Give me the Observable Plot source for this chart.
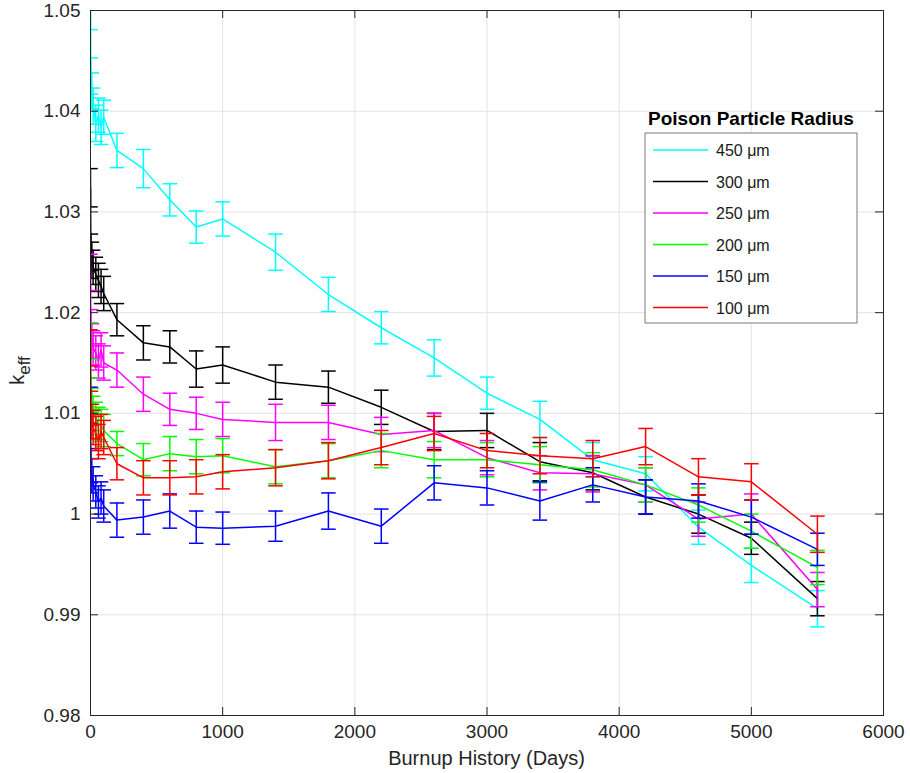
<!DOCTYPE html>
<html>
<head>
<meta charset="utf-8">
<script src="https://cdn.jsdelivr.net/npm/d3@7"></script>
<script src="https://cdn.jsdelivr.net/npm/@observablehq/plot@0.6"></script>
<style>
  html, body { margin: 0; padding: 0; background: #fff; }
  #chart { position: relative; width: 910px; height: 773px; }
</style>
</head>
<body>
<div id="chart"></div>
<script>
// ---- data ----
const days = [0, 3, 10, 20, 40, 60, 80, 100, 200, 400, 600, 800, 1000, 1400, 1800, 2200, 2600, 3000, 3400, 3800, 4200, 4600, 5000, 5500];

const seriesNames = ["450 μm", "300 μm", "250 μm", "200 μm", "150 μm", "100 μm"];
const seriesColors = ["#00FFFF", "#000000", "#FF00FF", "#00FF00", "#0000FF", "#FF0000"];

const k450 = [1.0500, 1.0435, 1.0420, 1.0405, 1.0388, 1.0396, 1.0384, 1.0394, 1.0361, 1.0343, 1.0312, 1.0285, 1.0293, 1.0260, 1.0218, 1.0185, 1.0155, 1.0120, 1.0094, 1.0054, 1.0040, 0.9987, 0.9949, 0.9906];
const k300 = [1.0324, 1.0260, 1.0252, 1.0245, 1.0238, 1.0232, 1.0226, 1.0219, 1.0193, 1.0170, 1.0166, 1.0144, 1.0148, 1.0131, 1.0126, 1.0106, 1.0082, 1.0083, 1.0052, 1.0041, 1.0017, 1.0000, 0.9976, 0.9916];
const k250 = [1.0240, 1.0185, 1.0172, 1.0165, 1.0160, 1.0152, 1.0163, 1.0150, 1.0143, 1.0119, 1.0104, 1.0100, 1.0094, 1.0091, 1.0091, 1.0079, 1.0083, 1.0056, 1.0041, 1.0040, 1.0029, 0.9995, 1.0000, 0.9925];
const k200 = [1.0172, 1.0118, 1.0108, 1.0100, 1.0095, 1.0090, 1.0088, 1.0083, 1.0070, 1.0054, 1.0060, 1.0057, 1.0058, 1.0047, 1.0053, 1.0063, 1.0054, 1.0054, 1.0049, 1.0044, 1.0029, 1.0009, 0.9983, 0.9947];
const k150 = [1.0108, 1.0048, 1.0038, 1.0030, 1.0022, 1.0012, 1.0016, 1.0008, 0.9994, 0.9997, 1.0003, 0.9987, 0.9986, 0.9988, 1.0003, 0.9988, 1.0031, 1.0026, 1.0013, 1.0029, 1.0017, 1.0013, 0.9997, 0.9965];
const k100 = [1.0165, 1.0105, 1.0092, 1.0086, 1.0080, 1.0072, 1.0082, 1.0076, 1.0050, 1.0036, 1.0036, 1.0037, 1.0042, 1.0046, 1.0053, 1.0066, 1.0080, 1.0063, 1.0058, 1.0055, 1.0067, 1.0037, 1.0032, 0.9980];

const e450 = [0.0019, 0.0018, 0.0018, 0.0018, 0.0018, 0.0017, 0.0017, 0.0017, 0.0017, 0.0019, 0.0016, 0.0016, 0.0017, 0.0018, 0.0017, 0.0016, 0.0018, 0.0016, 0.0018, 0.0017, 0.0017, 0.0017, 0.0017, 0.0018];
const e300 = [0.0019, 0.0018, 0.0018, 0.0017, 0.0017, 0.0017, 0.0017, 0.0017, 0.0016, 0.0017, 0.0016, 0.0018, 0.0018, 0.0017, 0.0016, 0.0017, 0.0018, 0.0017, 0.0019, 0.0017, 0.0017, 0.0019, 0.0016, 0.0017];
const e250 = [0.0018, 0.0018, 0.0017, 0.0017, 0.0017, 0.0017, 0.0017, 0.0017, 0.0017, 0.0017, 0.0016, 0.0016, 0.0017, 0.0018, 0.0017, 0.0017, 0.0017, 0.0017, 0.0017, 0.0018, 0.0017, 0.0017, 0.0020, 0.0017];
const e200 = [0.0018, 0.0017, 0.0017, 0.0017, 0.0016, 0.0016, 0.0016, 0.0016, 0.0012, 0.0016, 0.0017, 0.0017, 0.0017, 0.0017, 0.0017, 0.0017, 0.0018, 0.0017, 0.0018, 0.0017, 0.0017, 0.0017, 0.0017, 0.0017];
const e150 = [0.0018, 0.0017, 0.0017, 0.0017, 0.0016, 0.0016, 0.0016, 0.0016, 0.0017, 0.0017, 0.0017, 0.0016, 0.0016, 0.0015, 0.0018, 0.0017, 0.0017, 0.0017, 0.0019, 0.0017, 0.0017, 0.0017, 0.0017, 0.0016];
const e100 = [0.0018, 0.0017, 0.0017, 0.0017, 0.0017, 0.0017, 0.0017, 0.0017, 0.0016, 0.0017, 0.0017, 0.0017, 0.0017, 0.0018, 0.0018, 0.0017, 0.0017, 0.0017, 0.0018, 0.0018, 0.0018, 0.0018, 0.0018, 0.0018];

const xTicks = [0, 1000, 2000, 3000, 4000, 5000, 6000];
const yTicks = [0.98, 0.99, 1.00, 1.01, 1.02, 1.03, 1.04, 1.05];

const legendTitle = "Poison Particle Radius";
const xLabel = "Burnup History (Days)";

// ---- build ----
const allK = [k450, k300, k250, k200, k150, k100];
const allE = [e450, e300, e250, e200, e150, e100];
const series = seriesNames.map((name, s) =>
  days.map((d, i) => ({day: d, k: allK[s][i], err: allE[s][i], name}))
);

const W = 910, H = 773;
const mL = 90, mR = 27, mT = 10, mB = 58;
const frameW = W - mL - mR, frameH = H - mT - mB;
const tickLen = 8;
const capHalf = 55; // days
const lw = 1.5;
const axisColor = "#262626";
const axisFont = "'Liberation Sans Narrow', 'Liberation Sans', Arial, sans-serif";

const marks = [
  Plot.gridX(xTicks, {stroke: "#e3e3e3", strokeOpacity: 1, strokeWidth: 1}),
  Plot.gridY(yTicks, {stroke: "#e3e3e3", strokeOpacity: 1, strokeWidth: 1})
];

series.forEach((data, s) => {
  const color = seriesColors[s];
  marks.push(
    Plot.ruleX(data, {x: "day", y1: d => d.k - d.err, y2: d => d.k + d.err, stroke: color, strokeWidth: lw, clip: true}),
    Plot.link(data, {x1: d => d.day - capHalf, x2: d => d.day + capHalf, y1: d => d.k + d.err, y2: d => d.k + d.err, stroke: color, strokeWidth: lw, clip: true}),
    Plot.link(data, {x1: d => d.day - capHalf, x2: d => d.day + capHalf, y1: d => d.k - d.err, y2: d => d.k - d.err, stroke: color, strokeWidth: lw, clip: true}),
    Plot.line(data, {x: "day", y: "k", stroke: color, strokeWidth: lw, clip: true})
  );
});

marks.push(
  Plot.frame({stroke: axisColor, strokeWidth: 1}),
  Plot.ruleX(xTicks, {x: d => d, insetTop: frameH - tickLen, stroke: axisColor}),
  Plot.ruleX(xTicks, {x: d => d, insetBottom: frameH - tickLen, stroke: axisColor}),
  Plot.ruleY(yTicks, {y: d => d, insetRight: frameW - tickLen, stroke: axisColor}),
  Plot.ruleY(yTicks, {y: d => d, insetLeft: frameW - tickLen, stroke: axisColor}),
  Plot.axisX(xTicks, {tickSize: 0, tickPadding: 9, label: null, fill: axisColor, tickFormat: d => String(d)}),
  Plot.axisY(yTicks, {tickSize: 0, tickPadding: 10, label: null, fill: axisColor, tickFormat: d => String(+d.toFixed(2))})
);

const svg = Plot.plot({
  width: W,
  height: H,
  marginLeft: mL,
  marginRight: mR,
  marginTop: mT,
  marginBottom: mB,
  x: {type: "linear", domain: [0, 6000]},
  y: {type: "linear", domain: [0.98, 1.05]},
  style: {fontFamily: axisFont, fontSize: "19px", color: axisColor, background: "#fff", overflow: "visible"},
  marks
});

document.getElementById("chart").appendChild(svg);

const sel = d3.select(svg);
// axis titles
sel.append("text")
  .attr("x", mL + frameW / 2)
  .attr("y", H - 8)
  .attr("text-anchor", "middle")
  .attr("fill", axisColor)
  .style("font-family", axisFont)
  .style("font-size", "20px")
  .text(xLabel);

const yl = sel.append("text")
  .attr("transform", `translate(24, ${mT + frameH / 2 + 8}) rotate(-90)`)
  .attr("text-anchor", "middle")
  .attr("fill", axisColor)
  .style("font-family", axisFont)
  .style("font-size", "20px");
yl.append("tspan").text("k");
yl.append("tspan").attr("dy", 6).style("font-size", "17px").text("eff");

// legend
const lgX = 645, lgY = 133, lgW = 212, lgH = 190;
const lg = sel.append("g").attr("text-anchor", "start");
lg.append("rect").attr("x", lgX).attr("y", lgY).attr("width", lgW).attr("height", lgH)
  .attr("fill", "#fff").attr("stroke", "#7a7a7a").attr("stroke-width", 1);
lg.append("text").attr("x", lgX + lgW / 2).attr("y", lgY - 8).attr("text-anchor", "middle")
  .style("font-family", "'Liberation Sans', Arial, sans-serif").style("font-size", "19px").style("font-weight", "bold")
  .attr("fill", "#000").text(legendTitle);
seriesNames.forEach((name, i) => {
  const cy = lgY + 17 + i * 31.5;
  lg.append("line").attr("x1", lgX + 8).attr("x2", lgX + 63).attr("y1", cy).attr("y2", cy)
    .attr("stroke", seriesColors[i]).attr("stroke-width", lw);
  lg.append("text").attr("x", lgX + 71).attr("y", cy + 6).attr("text-anchor", "start")
    .style("font-family", "'Liberation Sans', Arial, sans-serif").style("font-size", "16px")
    .attr("fill", "#1a1a1a").text(name);
});
</script>
</body>
</html>
